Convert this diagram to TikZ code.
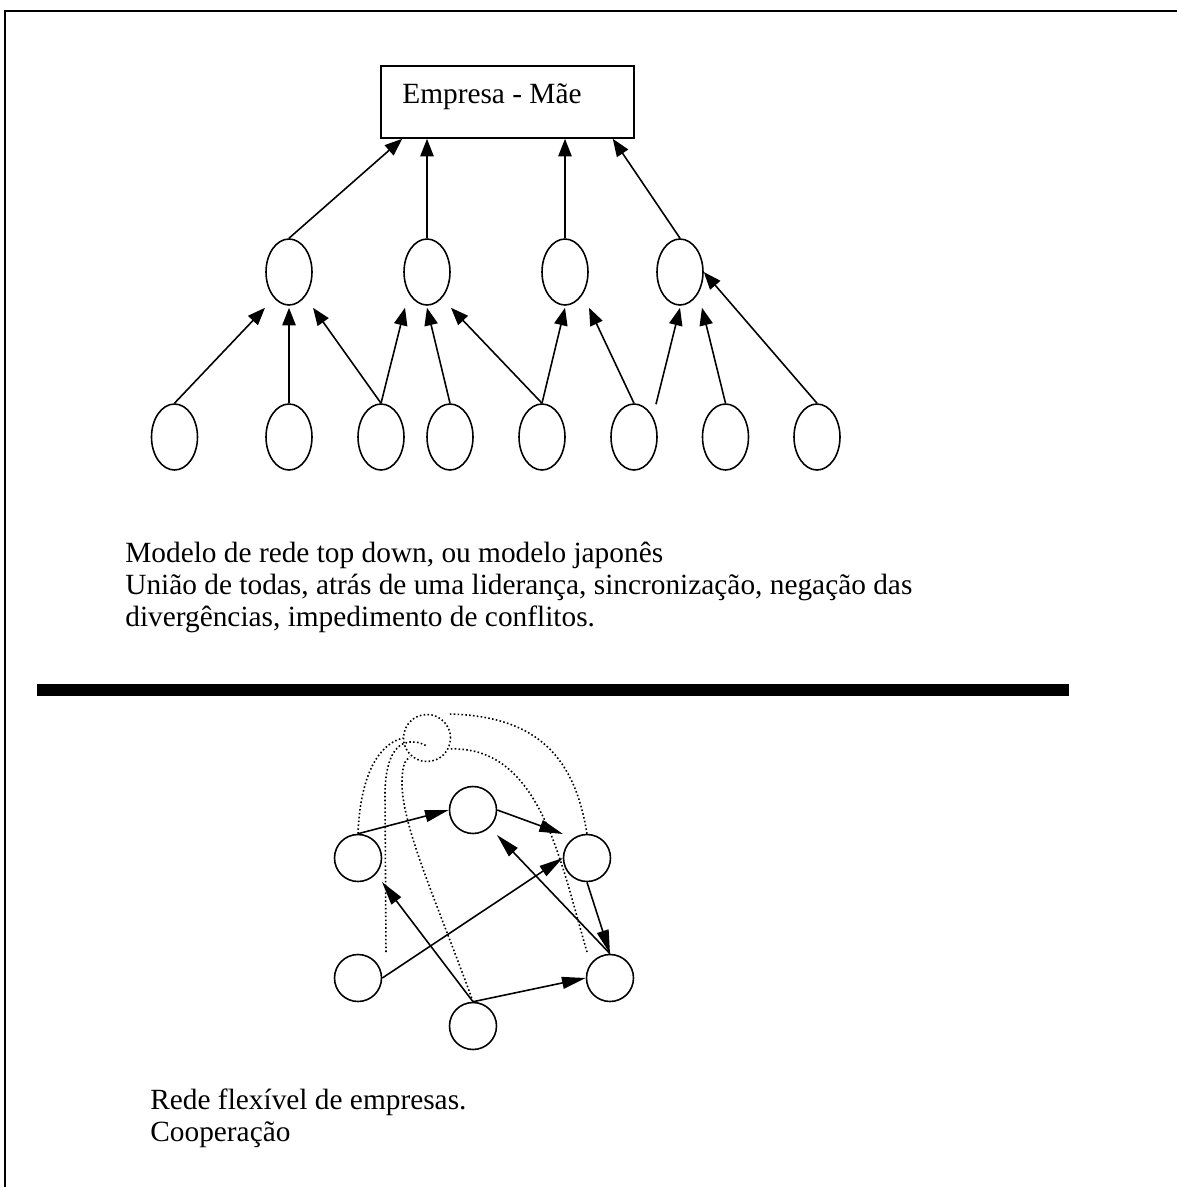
\documentclass[tikz,border=0pt]{standalone}
\usepackage{fontspec}
\setmainfont{Liberation Serif}
\usepackage{tikz}
\usetikzlibrary{arrows.meta, calc, shapes.geometric}
\tikzset{
  blob/.style={draw, ellipse, line width=0.9pt, minimum width=0.92cm, minimum height=1.32cm, inner sep=0pt},
  firm/.style={draw, circle, line width=0.9pt, minimum size=0.94cm, inner sep=0pt},
  trace/.style={line width=0.9pt, dash pattern=on 0.9pt off 1.3pt},
  upto/.style={-{Triangle[length=10pt, width=7.6pt]}, line width=0.9pt},
  link/.style={-{Triangle[length=13.5pt, width=6.8pt]}, line width=0.9pt},
  txt/.style={anchor=base west, inner sep=0pt, font=\fontsize{16.7}{19}\selectfont}}

\begin{document}
\begin{tikzpicture}[x=0.02cm, y=-0.02cm]
\useasboundingbox (0,0) rectangle (1177,1187);
% frame and separator
\draw[line width=1.1pt] (5,1187) -- (5,11) -- (1177,11);
\fill (37,684) rectangle (1069,696);
% top down network
\node[draw, line width=0.9pt, minimum width=5.06cm, minimum height=1.44cm, inner sep=0pt] (mae) at (507.5,102) {};
\node[txt] (maetxt) at (402,103) {Empresa - Mãe};
\foreach \x [count=\i] in {289,427,565,680}
  \node[blob] (m\i) at (\x,272) {};
\foreach \x [count=\i] in {174.5,289,381,450,542,634,725.5,817}
  \node[blob] (b\i) at (\x,437) {};
\draw[upto] (m1.north) -- ($(mae.south west)+(22,0)$);
\draw[upto] (m2.north) -- (mae.south -| m2);
\draw[upto] (m3.north) -- (mae.south -| m3);
\draw[upto] (m4.north) -- ($(mae.south east)+(-22,0)$);
\draw[upto] (b1.north) -- ($(m1.south)+(-24,2)$);
\draw[upto] (b2.north) -- ($(m1.south)+(0,2)$);
\draw[upto] (b3.north) -- ($(m1.south)+(24,2)$);
\draw[upto] (b3.north) -- ($(m2.south)+(-22,2)$);
\draw[upto] (b4.north) -- ($(m2.south)+(0,2)$);
\draw[upto] (b5.north) -- ($(m2.south)+(24,2)$);
\draw[upto] (b5.north) -- ($(m3.south)+(0,2)$);
\draw[upto] (b6.north) -- ($(m3.south)+(24,2)$);
\coordinate (loose) at ($(b6.north)+(22,1)$);
\draw[upto] (loose) -- ($(m4.south)+(0,2)$);
\draw[upto] (b7.north) -- ($(m4.south)+(22,2)$);
\draw[upto] (b8.north) -- (m4.east);
\node[txt] (top1) at (125,562) {Modelo de rede top down, ou modelo japonês};
\node[txt] (top2) at (125,594) {União de todas, atrás de uma liderança, sincronização, negação das};
\node[txt] (top3) at (125,626) {divergências, impedimento de conflitos.};
% flexible network
\node[firm] (fa) at (358,858) {};
\node[firm] (fb) at (473,810) {};
\node[firm] (fc) at (587,858) {};
\node[firm] (fd) at (358,978) {};
\node[firm] (fe) at (473,1026) {};
\node[firm] (ff) at (610,978) {};
\node[firm, draw=none] (fg) at (427,738) {};
\draw[trace] (fg) circle[radius=0.47cm];
\draw[link] (fa.north) -- (fb.west);
\draw[link] (fb.east) -- ($(fc)+(-24,-24)$);
\draw[link] (fd.east) -- (fc.west);
\draw[link] (fe.north) -- ($(fa)+(24,24)$);
\draw[link] (fe.north) -- (ff.west);
\draw[link] (ff.north) -- ($(fb)+(24,25)$);
\draw[link] (fc.south) -- (ff.north);
% dotted ties
\coordinate (endl) at (386,952);
\coordinate (endr) at (587,952);
\draw[trace] (fa.north) .. controls (360,780) and (376,745) .. (fg.west);
\draw[trace] (endl) -- (385,795) .. controls (385,760) and (395,743) .. (410,742) .. controls (418,742) .. (427,746);
\draw[trace] (fe.north) .. controls (440,910) and (403,830) .. (402,785) .. controls (402,768) and (404,760) .. (410,757);
\draw[trace] (fc.north) .. controls (575,760) and (540,716) .. (449,714);
\draw[trace] (endr) .. controls (560,860) and (540,745) .. (449,749);
\node[txt] (bot1) at (150,1109) {Rede flexível de empresas.};
\node[txt] (bot2) at (150,1141) {Cooperação};
\end{tikzpicture}
\end{document}
